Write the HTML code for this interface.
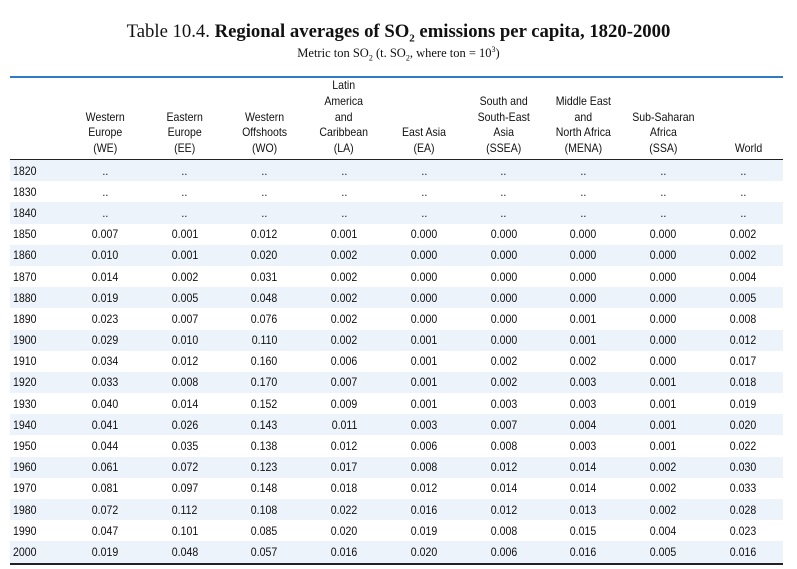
<!DOCTYPE html>
<html><head><meta charset="utf-8"><style>
body{margin:0;width:797px;height:569px;background:#fff;position:relative;overflow:hidden}
.t{position:absolute;left:0;width:797px;text-align:center;font-family:"Liberation Serif",serif;color:#111}
#title{top:21px;font-size:18.7px;left:0}
#sub{top:45px;font-size:12.5px;left:0}
table{position:absolute;left:10px;top:76px;border-collapse:collapse;width:773px;table-layout:fixed;font-family:"Liberation Sans",sans-serif;font-size:12px;color:#111}
thead th{font-weight:normal;text-align:center;vertical-align:bottom;line-height:15.8px;height:79px;padding:0 0 2px;border-top:2px solid #2f7bc4;border-bottom:1.5px solid #222}
thead th:last-child{padding-left:10px}
td{height:21.2px;padding:0;text-align:center}
td:first-child{text-align:left;padding-left:3px}
td span,.c{display:inline-block;transform:scaleX(.88)}
td:first-child span{transform-origin:left}
tbody tr:nth-child(odd) td{background:#edf3fa}
tbody tr:last-child td{border-bottom:2px solid #222}
</style></head><body>
<div class="t" id="title">Table 10.4. <b>Regional averages of SO<sub style="font-size:11px">2</sub> emissions per capita, 1820-2000</b></div>
<div class="t" id="sub">Metric ton SO<sub style="font-size:8px">2</sub> (t. SO<sub style="font-size:8px">2</sub>, where ton = 10<sup style="font-size:8px">3</sup>)</div>
<table>
<colgroup><col style="width:55px"><col span="9"></colgroup>
<thead><tr><th></th>
<th><span class="c">Western<br>Europe<br>(WE)</span></th>
<th><span class="c">Eastern<br>Europe<br>(EE)</span></th>
<th><span class="c">Western<br>Offshoots<br>(WO)</span></th>
<th><span class="c">Latin<br>America<br>and<br>Caribbean<br>(LA)</span></th>
<th><span class="c">East Asia<br>(EA)</span></th>
<th><span class="c">South and<br>South-East<br>Asia<br>(SSEA)</span></th>
<th><span class="c">Middle East<br>and<br>North Africa<br>(MENA)</span></th>
<th><span class="c">Sub-Saharan<br>Africa<br>(SSA)</span></th>
<th><span class="c">World</span></th></tr></thead>
<tbody id="b"></tbody></table>
<script>
var d=`1820 .. .. .. .. .. .. .. .. ..
1830 .. .. .. .. .. .. .. .. ..
1840 .. .. .. .. .. .. .. .. ..
1850 0.007 0.001 0.012 0.001 0.000 0.000 0.000 0.000 0.002
1860 0.010 0.001 0.020 0.002 0.000 0.000 0.000 0.000 0.002
1870 0.014 0.002 0.031 0.002 0.000 0.000 0.000 0.000 0.004
1880 0.019 0.005 0.048 0.002 0.000 0.000 0.000 0.000 0.005
1890 0.023 0.007 0.076 0.002 0.000 0.000 0.001 0.000 0.008
1900 0.029 0.010 0.110 0.002 0.001 0.000 0.001 0.000 0.012
1910 0.034 0.012 0.160 0.006 0.001 0.002 0.002 0.000 0.017
1920 0.033 0.008 0.170 0.007 0.001 0.002 0.003 0.001 0.018
1930 0.040 0.014 0.152 0.009 0.001 0.003 0.003 0.001 0.019
1940 0.041 0.026 0.143 0.011 0.003 0.007 0.004 0.001 0.020
1950 0.044 0.035 0.138 0.012 0.006 0.008 0.003 0.001 0.022
1960 0.061 0.072 0.123 0.017 0.008 0.012 0.014 0.002 0.030
1970 0.081 0.097 0.148 0.018 0.012 0.014 0.014 0.002 0.033
1980 0.072 0.112 0.108 0.022 0.016 0.012 0.013 0.002 0.028
1990 0.047 0.101 0.085 0.020 0.019 0.008 0.015 0.004 0.023
2000 0.019 0.048 0.057 0.016 0.020 0.006 0.016 0.005 0.016`;
var h='';d.split('\n').forEach(function(r){h+='<tr>'+r.split(' ').map(function(c){return '<td><span>'+c+'</span></td>'}).join('')+'</tr>'});
document.getElementById('b').innerHTML=h;
</script>
</body></html>
